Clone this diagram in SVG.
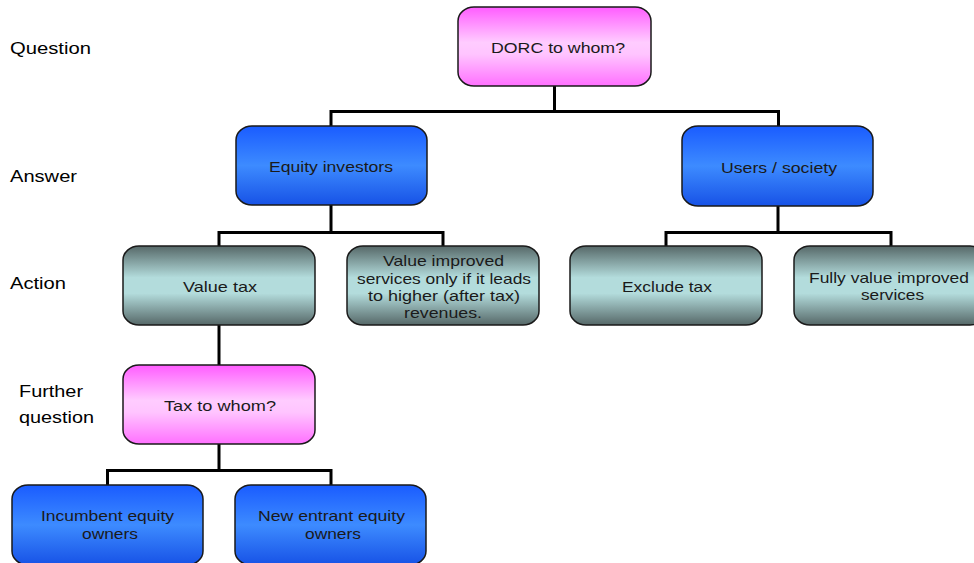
<svg xmlns="http://www.w3.org/2000/svg" width="974" height="563" viewBox="0 0 974 563">
<defs>
<linearGradient id="gPink" x1="0" y1="0" x2="0" y2="1">
<stop offset="0" stop-color="#ff5cff"/>
<stop offset="0.45" stop-color="#ffccff"/>
<stop offset="0.6" stop-color="#ffc4ff"/>
<stop offset="1" stop-color="#ff70ff"/>
</linearGradient>
<linearGradient id="gBlue" x1="0" y1="0" x2="0" y2="1">
<stop offset="0" stop-color="#1a5cff"/>
<stop offset="0.5" stop-color="#3d8bff"/>
<stop offset="1" stop-color="#1752e6"/>
</linearGradient>
<linearGradient id="gGrey" x1="0" y1="0" x2="0" y2="1">
<stop offset="0" stop-color="#566868"/>
<stop offset="0.4" stop-color="#b3dcdc"/>
<stop offset="0.6" stop-color="#b3dcdc"/>
<stop offset="1" stop-color="#566868"/>
</linearGradient>
</defs>
<style>
.box{stroke:#1a1a1a;stroke-width:1.5}
.pink{fill:url(#gPink)}
.blue{fill:url(#gBlue)}
.grey{fill:url(#gGrey)}
.t{font-family:"Liberation Sans",Arial,sans-serif;font-size:15px;fill:#1a1a1a;text-anchor:middle}
.lbl{font-family:"Liberation Sans",Arial,sans-serif;font-size:17px;fill:#000}
.conn{stroke:#000;stroke-width:3;fill:none}
</style>
<rect width="974" height="563" fill="#fff"/>

<g id="labels">
<text class="lbl" x="10" y="54" textLength="81" lengthAdjust="spacingAndGlyphs">Question</text>
<text class="lbl" x="10" y="182" textLength="67" lengthAdjust="spacingAndGlyphs">Answer</text>
<text class="lbl" x="10" y="289" textLength="56" lengthAdjust="spacingAndGlyphs">Action</text>
<text class="lbl" x="19" y="397" textLength="64" lengthAdjust="spacingAndGlyphs">Further</text>
<text class="lbl" x="19" y="423" textLength="75" lengthAdjust="spacingAndGlyphs">question</text>
</g>

<g id="connectors">
<path class="conn" d="M554.5 86V111.5M331 111.5H779M331 110V126M778.5 110V126"/>
<path class="conn" d="M331 205V232.5M219 232.5H443.5M219 231V246M443 231V246"/>
<path class="conn" d="M778 206V232.5M666 232.5H891.5M666 231V246M891 231V246"/>
<path class="conn" d="M219 325V365"/>
<path class="conn" d="M219 444V470.5M107 470.5H331.5M107.5 469V485M331 469V485"/>
</g>

<g id="n-dorc">
<rect class="box pink" x="458" y="7" width="193" height="79" rx="16" ry="14"/>
<text class="t" x="558" y="53" textLength="134" lengthAdjust="spacingAndGlyphs">DORC to whom?</text>
</g>
<g id="n-equity">
<rect class="box blue" x="236" y="126" width="191" height="79" rx="16" ry="14"/>
<text class="t" x="331" y="172" textLength="124" lengthAdjust="spacingAndGlyphs">Equity investors</text>
</g>
<g id="n-users">
<rect class="box blue" x="682" y="126" width="191" height="80" rx="16" ry="14"/>
<text class="t" x="779" y="173" textLength="116" lengthAdjust="spacingAndGlyphs">Users / society</text>
</g>
<g id="n-valuetax">
<rect class="box grey" x="123" y="246" width="192" height="79" rx="16" ry="14"/>
<text class="t" x="220" y="292" textLength="74" lengthAdjust="spacingAndGlyphs">Value tax</text>
</g>
<g id="n-valueimproved">
<rect class="box grey" x="347" y="246" width="192" height="79" rx="16" ry="14"/>
<text class="t" x="443.5" y="266" textLength="121" lengthAdjust="spacingAndGlyphs">Value improved</text>
<text class="t" x="444" y="283.5" textLength="174" lengthAdjust="spacingAndGlyphs">services only if it leads</text>
<text class="t" x="444" y="301" textLength="152" lengthAdjust="spacingAndGlyphs">to higher (after tax)</text>
<text class="t" x="443" y="318" textLength="78" lengthAdjust="spacingAndGlyphs">revenues.</text>
</g>
<g id="n-exclude">
<rect class="box grey" x="570" y="246" width="192" height="79" rx="16" ry="14"/>
<text class="t" x="667" y="292" textLength="90" lengthAdjust="spacingAndGlyphs">Exclude tax</text>
</g>
<g id="n-fully">
<rect class="box grey" x="794" y="246" width="192" height="79" rx="16" ry="14"/>
<text class="t" x="889" y="283" textLength="160" lengthAdjust="spacingAndGlyphs">Fully value improved</text>
<text class="t" x="892.5" y="300" textLength="63" lengthAdjust="spacingAndGlyphs">services</text>
</g>
<g id="n-taxwhom">
<rect class="box pink" x="123" y="365" width="192" height="79" rx="16" ry="14"/>
<text class="t" x="220" y="411" textLength="112" lengthAdjust="spacingAndGlyphs">Tax to whom?</text>
</g>
<g id="n-incumbent">
<rect class="box blue" x="12" y="485" width="191" height="80" rx="16" ry="14"/>
<text class="t" x="107.5" y="521" textLength="133" lengthAdjust="spacingAndGlyphs">Incumbent equity</text>
<text class="t" x="110" y="539" textLength="56" lengthAdjust="spacingAndGlyphs">owners</text>
</g>
<g id="n-newentrant">
<rect class="box blue" x="235" y="485" width="191" height="80" rx="16" ry="14"/>
<text class="t" x="331.5" y="521" textLength="147" lengthAdjust="spacingAndGlyphs">New entrant equity</text>
<text class="t" x="333" y="539" textLength="56" lengthAdjust="spacingAndGlyphs">owners</text>
</g>
</svg>
